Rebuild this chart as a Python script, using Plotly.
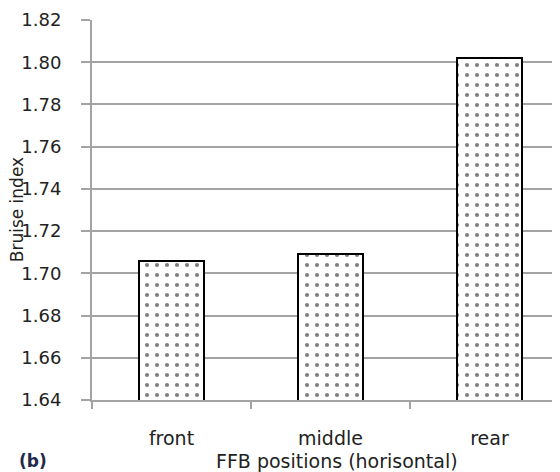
import plotly.graph_objects as go

categories = ["front", "middle", "rear"]
bruise_index = [1.706, 1.709, 1.802]
y_ticks = [1.64, 1.66, 1.68, 1.70, 1.72, 1.74, 1.76, 1.78, 1.80, 1.82]

fig = go.Figure()
fig.add_trace(go.Bar(
    x=categories,
    y=bruise_index,
    width=0.41,
    marker=dict(
        color="white",
        line=dict(color="black", width=2),
        pattern=dict(shape=".", size=10, solidity=0.14, fgcolor="black", bgcolor="white", fillmode="overlay"),
    ),
    showlegend=False,
))

grid = "#a3a3a3"
fig.update_layout(
    width=560, height=472,
    margin=dict(l=84, r=0, t=12, b=80),
    plot_bgcolor="white", paper_bgcolor="white",
    font=dict(family="DejaVu Sans", color="#222222"),
    bargap=0,
)
fig.update_xaxes(
    type="category",
    range=[-0.5, 2.494],
    automargin=False,
    tickson="boundaries",
    ticks="outside", ticklen=7, tickwidth=1.5, tickcolor=grid,
    showline=True, linecolor=grid, linewidth=2,
    showgrid=False,
    tickfont=dict(size=19, family="DejaVu Sans"),
    ticklabelstandoff=20,
)
fig.update_yaxes(
    range=[1.64, 1.82],
    automargin=False,
    tickvals=y_ticks,
    tickformat=".2f",
    ticks="outside", ticklen=9, tickwidth=2, tickcolor=grid,
    showline=True, linecolor=grid, linewidth=2,
    showgrid=True, gridcolor=grid, gridwidth=2,
    zeroline=False,
    tickfont=dict(size=18, family="DejaVu Sans"),
    ticklabelstandoff=16,
)
# axis titles as annotations (pixel-precise positions)
fig.add_annotation(
    text="FFB positions (horisontal)", xref="paper", yref="paper",
    x=0.515, y=-0.16, xanchor="center", yanchor="middle",
    showarrow=False, font=dict(size=19, family="DejaVu Sans", color="#222222"),
)
fig.add_annotation(
    text="Bruise index", xref="paper", yref="paper",
    x=-0.157, y=0.5, xanchor="center", yanchor="middle", textangle=-90,
    showarrow=False, font=dict(size=17, family="DejaVu Sans", color="#222222"),
)
fig.add_annotation(
    text="<b>(b)</b>", xref="paper", yref="paper",
    x=-0.158, y=-0.16, xanchor="left", yanchor="middle",
    showarrow=False, font=dict(size=17, family="DejaVu Sans", color="#1f2a48"),
)
fig.write_html("out.html")
